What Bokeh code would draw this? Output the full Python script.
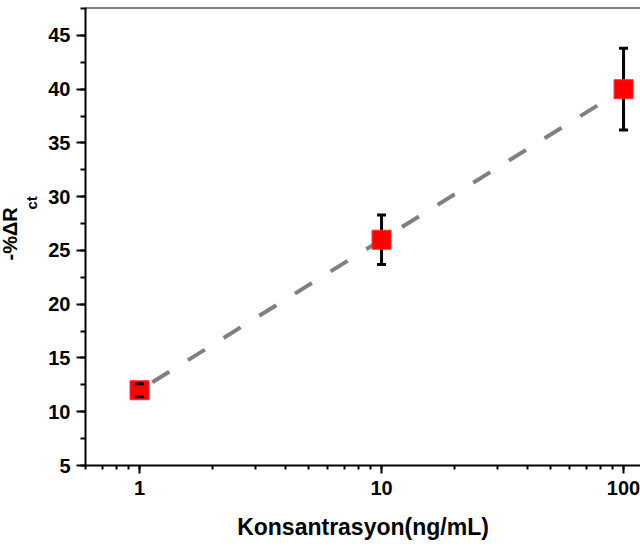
from bokeh.plotting import figure
from bokeh.models import (Range1d, LogTicker, SingleIntervalTicker, PrintfTickFormatter,
                          Title, Span, ColumnDataSource)
from bokeh.embed import file_html
from bokeh.resources import INLINE

# data
conc = [1, 10, 100]
delta_rct = [12.0, 26.0, 40.0]
err = [0.6, 2.3, 3.8]
fit_x = [1, 100]
fit_y = [12.0, 40.0]

FONT = "Liberation Sans"
Y_END = 47.6

p = figure(width=640, height=547, x_axis_type="log", output_backend="svg",
           toolbar_location=None,
           x_range=Range1d(0.598, 117.5), y_range=Range1d(5, Y_END),
           min_border_left=85, min_border_right=0, min_border_top=7, min_border_bottom=82)
p.outline_line_color = None
p.grid.visible = False
p.background_fill_color = "white"
p.border_fill_color = "white"

for ax in (p.xaxis[0], p.yaxis[0]):
    ax.axis_line_width = 2
    ax.major_tick_line_width = 2
    ax.minor_tick_line_width = 2
    ax.major_tick_in = 0
    ax.minor_tick_in = 0
    ax.major_label_text_font = FONT
    ax.major_label_text_font_style = "bold"
    ax.major_label_text_font_size = "20px"
    ax.major_label_text_color = "black"
    ax.axis_line_color = "black"
    ax.major_tick_line_color = "black"
    ax.minor_tick_line_color = "black"

p.xaxis.ticker = LogTicker(num_minor_ticks=10)
p.xaxis.formatter = PrintfTickFormatter(format="%d")
p.xaxis.major_tick_out = 8
p.xaxis.minor_tick_out = 4
p.xaxis.major_label_standoff = 7
p.xaxis.axis_label = "Konsantrasyon(ng/mL)"
p.xaxis.axis_label_text_font = FONT
p.xaxis.axis_label_text_font_style = "bold"
p.xaxis.axis_label_text_font_size = "23px"
p.xaxis.axis_label_text_color = "black"
p.xaxis.axis_label_standoff = 16

p.yaxis.ticker = SingleIntervalTicker(interval=5, num_minor_ticks=2)
p.yaxis.major_tick_out = 9
p.yaxis.minor_tick_out = 5
p.yaxis.major_label_standoff = 6

p.add_layout(Span(location=Y_END, dimension="width", line_color="black", line_width=2))

p.line(fit_x, fit_y, line_color="#808080", line_width=4, line_dash="20 22",
       line_dash_offset=27)

upper = [v + e for v, e in zip(delta_rct, err)]
lower = [v - e for v, e in zip(delta_rct, err)]
src = ColumnDataSource(dict(x=conc, y=delta_rct, up=upper, lo=lower))

p.segment(x0="x", y0="lo", x1="x", y1="up", source=src, line_color="black", line_width=3)
p.scatter(x="x", y="y", source=src, marker="square", size=19,
          fill_color="#FF0000", line_color="#FF3030", line_width=1)
p.scatter(x="x", y="up", source=src, marker="dash", size=9, line_color="black", line_width=3)
p.scatter(x="x", y="lo", source=src, marker="dash", size=9, line_color="black", line_width=3)

# y label with subscript, as titles in the left panel
p.add_layout(Title(text="ct", align="left", offset=256, text_font=FONT,
                   text_font_style="bold", text_font_size="15px", text_color="black",
                   standoff=12), "left")
p.add_layout(Title(text="-%ΔR", align="left", offset=205, text_font=FONT,
                   text_font_style="bold", text_font_size="20px", text_color="black",
                   standoff=-14, vertical_align="middle"), "left")

open("out.html", "w").write(file_html(p, INLINE))
